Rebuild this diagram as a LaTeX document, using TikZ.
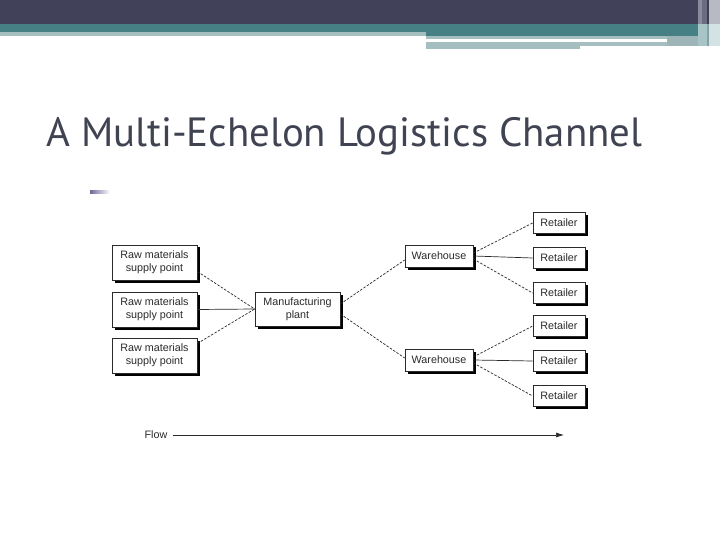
\documentclass[tikz,border=0pt]{standalone}
\usepackage{fontspec}
\setmainfont{Liberation Sans}
\newfontfamily\titlefont{PT Sans}
\usepackage{xcolor}
\usepackage{tikz}
\usetikzlibrary{arrows.meta,shadows}
\definecolor{bardark}{HTML}{41425A}
\definecolor{barteal}{HTML}{467F84}
\definecolor{barlight}{HTML}{A5BEC0}
\definecolor{edgeA}{HTML}{8A8B9C}
\definecolor{edgeB}{HTML}{6B6C80}
\definecolor{edgeC}{HTML}{3E3F52}
\definecolor{edgeD}{HTML}{B9B9C3}
\definecolor{edgeE}{HTML}{A9C4C6}
\definecolor{edgeF}{HTML}{7FA3A6}
\definecolor{edgeG}{HTML}{D5E2E3}
\definecolor{bulletcol}{HTML}{6A6A9A}
\definecolor{titlecol}{HTML}{404352}
\definecolor{ink}{HTML}{2A2A2A}
\tikzset{
  box/.style={draw=ink, fill=white, line width=0.7bp, text=ink, align=center,
    font=\fontsize{10.8}{13}\selectfont, inner sep=1bp,
    drop shadow={shadow xshift=2.5bp, shadow yshift=-2.5bp, fill=black, opacity=1}},
  rawbox/.style={box, minimum width=85bp, minimum height=35bp},
  whbox/.style={box, minimum width=68bp, minimum height=22bp},
  retbox/.style={box, minimum width=52bp, minimum height=21bp},
  solidline/.style={draw=ink, line width=0.7bp},
  dashline/.style={draw=ink, line width=0.7bp, dash pattern=on 2.5bp off 1.5bp},
  flowline/.style={draw=ink, line width=0.7bp, -{Latex[length=8bp,width=5bp]}},
  lab/.style={text=ink, font=\fontsize{10.8}{13}\selectfont, inner sep=2bp},
}
\begin{document}
\begin{tikzpicture}[x=1bp,y=-1bp]
  \useasboundingbox (0,0) rectangle (720,540);
  \fill[white] (0,0) rectangle (720,540);
  \fill[bardark] (0,0) rectangle (698,24);
  \fill[barteal] (0,24) rectangle (698,32);
  \fill[barteal] (426,32) rectangle (698,36);
  \fill[barlight] (0,32) rectangle (426,36);
  \fill[barlight] (426,36) rectangle (667,39);
  \fill[barlight] (426,42) rectangle (580,49);
  \fill[barlight] (580,42) rectangle (698,46);
  \fill[barlight!95!black] (667,36) rectangle (698,46);
  \fill[edgeA] (698,0) rectangle (702,24);
  \fill[edgeB] (702,0) rectangle (707,24);
  \fill[edgeC] (707,0) rectangle (709,24);
  \fill[edgeD] (709,0) rectangle (720,24);
  \fill[edgeE] (698,24) rectangle (707,46);
  \fill[edgeF] (707,24) rectangle (709,46);
  \fill[edgeG] (709,24) rectangle (720,46);
  \node[anchor=base west, inner sep=0pt, text=titlecol,
    font=\titlefont\fontsize{41}{48}\selectfont] (title) at (46,147)
    {A Multi-Echelon Logistics Channel};
  \shade[left color=bulletcol, right color=white] (90,191) rectangle (110,194);

  \node[rawbox] (raw1) at (154.5,262.5) {Raw materials\\supply point};
  \node[rawbox] (raw2) at (154.5,309.5) {Raw materials\\supply point};
  \node[rawbox] (raw3) at (154.5,355.5) {Raw materials\\supply point};
  \node[rawbox, minimum height=34bp] (plant) at (297.5,309) {Manufacturing\\plant};
  \node[whbox] (wh1) at (439,256) {Warehouse};
  \node[whbox] (wh2) at (439,360) {Warehouse};
  \node[retbox] (ret1) at (559,223) {Retailer};
  \node[retbox] (ret2) at (559,258) {Retailer};
  \node[retbox] (ret3) at (559,293) {Retailer};
  \node[retbox] (ret4) at (559,326) {Retailer};
  \node[retbox] (ret5) at (559,361) {Retailer};
  \node[retbox] (ret6) at (559,396) {Retailer};

  \draw[dashline] ([yshift=-9bp]raw1.east) -- (plant.west);
  \draw[solidline] (raw2.east) -- (plant.west);
  \draw[dashline] ([yshift=12bp]raw3.east) -- (plant.west);
  \draw[dashline] ([yshift=5bp]plant.east) -- ([yshift=-4bp]wh1.west);
  \draw[dashline] ([yshift=-5bp]plant.east) -- ([yshift=2bp]wh2.west);
  \draw[dashline] ([yshift=3bp]wh1.east) -- (ret1.west);
  \draw[solidline] (wh1.east) -- (ret2.west);
  \draw[dashline] ([yshift=-3bp]wh1.east) -- (ret3.west);
  \draw[dashline] ([yshift=3bp]wh2.east) -- (ret4.west);
  \draw[solidline] (wh2.east) -- (ret5.west);
  \draw[dashline] ([yshift=-3bp]wh2.east) -- (ret6.west);

  \node[lab] (flow) at (156,435) {Flow};
  \coordinate (flowend) at (564,435);
  \draw[flowline] ([xshift=3bp]flow.east) -- (flowend);
\end{tikzpicture}
\end{document}
